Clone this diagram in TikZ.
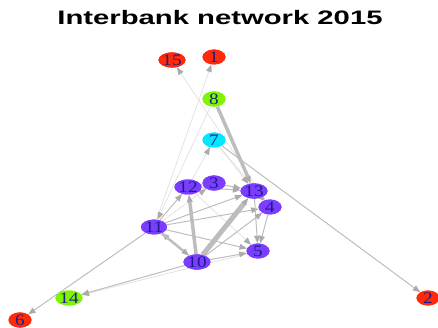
\documentclass[tikz,border=0pt]{standalone}
\usepackage{fontspec}
\setmainfont{Liberation Serif}
\newfontfamily\titlefont{Liberation Sans}
\usetikzlibrary{shapes.geometric,arrows.meta}
\definecolor{nred}{HTML}{FF2A0A}
\definecolor{ngreen}{HTML}{80F500}
\definecolor{ncyan}{HTML}{00E8FF}
\definecolor{npurple}{HTML}{7B3DFF}
\definecolor{nlabel}{HTML}{1C1C8C}
\definecolor{emid}{HTML}{BDBDBD}
\definecolor{efaint}{HTML}{E2E2E2}
\definecolor{etip}{HTML}{ABABAB}
\newcommand{\wlbl}[1]{\scalebox{1.2}[1]{#1}}
\tikzset{
  bank/.style={ellipse, inner sep=0pt, minimum width=23pt, minimum height=15pt,
    text=nlabel, font=\fontsize{16}{16}\selectfont},
  redb/.style={bank, fill=nred},
  greenb/.style={bank, fill=ngreen},
  cyanb/.style={bank, fill=ncyan},
  purpleb/.style={bank, fill=npurple},
  arrowtip/.style={-{Triangle[length=7.5pt,width=6pt,color=etip,line width=0pt]}},
  emedge/.style={arrowtip, draw=emid, line width=1pt},
  efedge/.style={arrowtip, draw=efaint, line width=0.8pt},
  ethick/.style={arrowtip, draw=emid, line width=#1},
}
\begin{document}
\begin{tikzpicture}[x=1pt,y=-1pt]
\useasboundingbox (0,0) rectangle (438,328);
\node[font=\titlefont\bfseries\fontsize{19.5}{20}\selectfont, xscale=1.5] (title) at (220,18) {Interbank network 2015};
% nodes
\node[redb] (n15) at (172,60) {\wlbl{15}};
\node[redb] (n1) at (214,57) {\wlbl{1}};
\node[greenb] (n8) at (214,99) {\wlbl{8}};
\node[cyanb] (n7) at (214,140) {\wlbl{7}};
\node[purpleb] (n3) at (214,183) {\wlbl{3}};
\node[purpleb] (n12) at (188,187) {\wlbl{12}};
\node[purpleb] (n13) at (254,191) {\wlbl{13}};
\node[purpleb] (n4) at (270,207) {\wlbl{4}};
\node[purpleb] (n11) at (154,227) {\wlbl{11}};
\node[purpleb] (n5) at (258,251) {\wlbl{5}};
\node[purpleb] (n10) at (197,262) {\wlbl{10}};
\node[greenb] (n14) at (69,298) {\wlbl{14}};
\node[redb] (n6) at (20,320) {\wlbl{6}};
\node[redb] (n2) at (428,298) {\wlbl{2}};
% edges
\path[efedge] (n4) edge (n15);
\path[efedge] (n11) edge (n1);
\path[efedge] (n8) edge (n11);
\path[efedge] (n12) edge (n7);
\path[efedge] (n7) edge (n4);
\path[efedge] (n7) edge (n13);
\path[efedge] (n5) edge (n14);
\path[efedge] (n11) edge (n3);
\path[efedge] (n12) edge (n5);
\path[emedge] (n7) edge (n2);
\path[emedge] (n11) edge (n6);
\path[emedge] (n10) edge (n14);
\path[emedge] (n11) edge (n12);
\path[emedge] (n11) edge (n13);
\path[emedge] (n11) edge (n4);
\path[emedge] (n11) edge (n5);
\path[emedge] (n12) edge (n3);
\path[emedge] (n3) edge (n13);
\path[emedge] (n12) edge (n13);
\path[emedge] (n13) edge (n4);
\path[emedge] (n4) edge (n5);
\path[emedge] (n13) edge (n5);
\path[emedge] (n10) edge (n5);
\path[emedge] (n10) edge (n4);
\path[emedge] (n10) edge (n11);
\path[ethick=3.5pt] (n8) edge (n13);
\path[ethick=5pt] (n10) edge (n13);
\path[ethick=3.5pt] (n10) edge (n12);
\path[ethick=2.5pt] (n11) edge (n10);
% redraw nodes on top
\node[redb] at (n15) {\wlbl{15}};
\node[redb] at (n1) {\wlbl{1}};
\node[greenb] at (n8) {\wlbl{8}};
\node[cyanb] at (n7) {\wlbl{7}};
\node[purpleb] at (n3) {\wlbl{3}};
\node[purpleb] at (n12) {\wlbl{12}};
\node[purpleb] at (n13) {\wlbl{13}};
\node[purpleb] at (n4) {\wlbl{4}};
\node[purpleb] at (n11) {\wlbl{11}};
\node[purpleb] at (n5) {\wlbl{5}};
\node[purpleb] at (n10) {\wlbl{10}};
\node[greenb] at (n14) {\wlbl{14}};
\node[redb] at (n6) {\wlbl{6}};
\node[redb] at (n2) {\wlbl{2}};
\end{tikzpicture}
\end{document}
